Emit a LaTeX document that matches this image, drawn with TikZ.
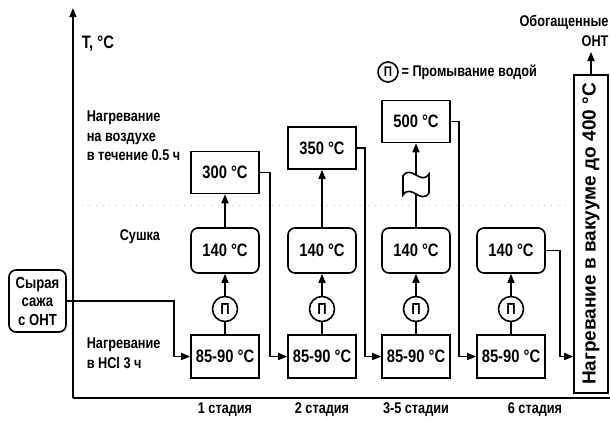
\documentclass[tikz,border=0pt]{standalone}
\usepackage{fontspec}
\setmainfont{Liberation Sans}[FakeStretch=0.82]
\newfontfamily\vacfont{Liberation Sans}
\usetikzlibrary{arrows.meta}

\begin{document}
\begin{tikzpicture}[x=1pt,y=-1pt,line width=1.6pt,
    arr/.style={-{Triangle[length=9pt,width=7pt]}},
    tbox/.style={draw,minimum width=68pt,minimum height=42pt,inner sep=0pt,
      font=\fontsize{18}{20}\selectfont\bfseries},
    dbox/.style={tbox,rounded corners=7pt,minimum height=45pt},
    hbox/.style={tbox,minimum height=43pt},
    wash/.style={draw,circle,minimum size=25pt,inner sep=0pt,
      font=\fontsize{16}{18}\selectfont\bfseries},
    lbl/.style={inner sep=0pt,align=left,font=\fontsize{15.5}{19.5}\selectfont\bfseries}]
  \useasboundingbox (0,0) rectangle (610,421);
  % axes
  \coordinate (o) at (73,398);
  \draw[arr] (o) -- (73,8);
  \draw (o) -- (610,398);
  \draw[gray!50,line width=0.8pt,dash pattern=on 0.8pt off 6pt] (82,205) -- (570,205);
  % labels on the left
  \node[lbl,anchor=west,font=\fontsize{18}{20}\selectfont\bfseries] (tlab) at (81,44) {T, °C};
  \node[lbl,anchor=west] (airlab) at (86,136) {Нагревание\\на воздухе\\в течение 0.5 ч};
  \node[lbl,anchor=west] (drylab) at (119,237) {Сушка};
  \node[lbl,anchor=west] (hcllab) at (86,353) {Нагревание\\в HCl 3 ч};
  \node[draw,rounded corners=7pt,minimum width=57pt,minimum height=62pt,inner sep=0pt,
    align=center,font=\fontsize{16}{18.5}\selectfont\bfseries] (raw) at (37.5,301) {Сырая\\сажа\\с ОНТ};
  % legend
  \node[wash,minimum size=20pt,font=\fontsize{14}{16}\selectfont\bfseries] (legw) at (388,72) {П};
  \node[lbl,anchor=west] (legtxt) at ([xshift=2pt]legw.east) {= Промывание водой};
  % stages
  \foreach \i/\cx in {1/225,2/322,3/416,4/511} {
    \node[hbox] (h\i) at (\cx,356.5) {85-90 °C};
    \node[wash] (w\i) at (\cx,309) {П};
    \node[dbox] (d\i) at (\cx,250.5) {140 °C};
    \draw (h\i) -- (w\i);
    \draw[arr] (w\i) -- (d\i);
  }
  \node[tbox] (a1) at (225,172.5) {300 °C};
  \node[tbox] (a2) at (322,148) {350 °C};
  \node[tbox] (a3) at (416,121.5) {500 °C};
  \draw[arr] (d1) -- (a1);
  \draw[arr] (d2) -- (a2);
  % break in stage 3-5
  \coordinate (wt) at (416,175);
  \coordinate (wb) at (416,194);
  \draw (d3) -- (wb);
  \draw[arr] (wt) -- (a3);
  \draw (403,176) .. controls (411,164) and (421,186) .. (429,174) -- (429,193)
    .. controls (421,205) and (411,183) .. (403,195) -- cycle;
  % vacuum
  \node[draw,minimum width=34pt,minimum height=318pt,inner sep=0pt] (vac) at (591,234) {};
  \node[rotate=90,inner sep=0pt,font=\vacfont\fontsize{19}{22}\selectfont\bfseries] (vactxt)
    at (vac.center) {Нагревание в вакууме до 400 °C};
  \node[lbl,align=right,anchor=south] (prod) at (564,47) {Обогащенные\\ОНТ};
  % flow
  \draw[arr] (raw.east) -- ++(107,0) |- (h1.west);
  \draw[arr] (a1.east) -- ++(10,0) |- (h2.west);
  \draw[arr] (a2.east) -- ++(8,0) |- (h3.west);
  \draw[arr] (a3.east) -- ++(8,0) |- (h4.west);
  \draw[arr] (d4.east) -- ++(14,0) |- (vac.west |- h4.east);
  \draw[arr,shorten >=5pt] (vac.north) -- (vac.north |- prod.south);
  % stage names
  \foreach \cx/\st in {225/1 стадия,322/2 стадия,416/3-5 стадии,535/6 стадия}
    \node[lbl] (st\cx) at (\cx,410) {\st};
\end{tikzpicture}
\end{document}
